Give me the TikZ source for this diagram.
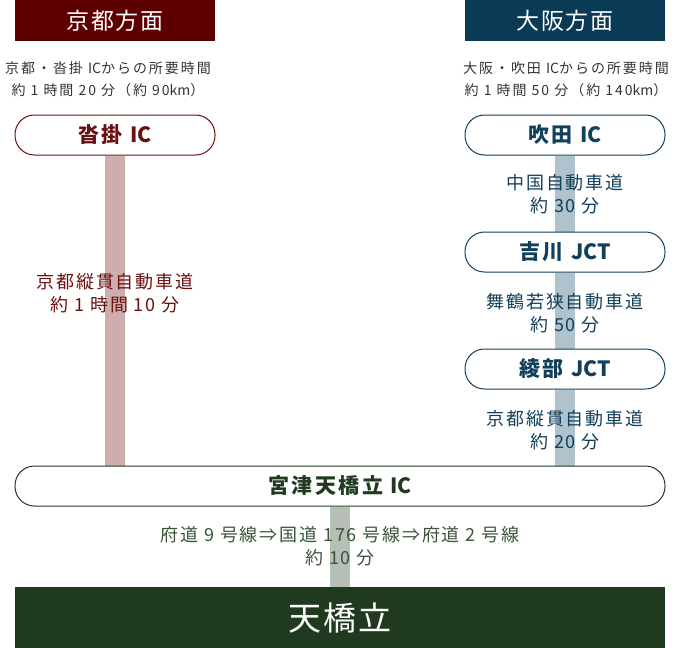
\documentclass[tikz,border=0pt]{standalone}
\usepackage{fontspec}
\usetikzlibrary{backgrounds}
\newfontfamily\jp[LetterSpace=10]{Noto Sans CJK JP}
\newfontfamily\jpsub[LetterSpace=14]{Noto Sans CJK JP}
\newfontfamily\jpstop[LetterSpace=12]{Noto Sans CJK JP}
\newfontfamily\jph[LetterSpace=6]{Noto Sans CJK JP}
\newfontfamily\jpn{Noto Sans CJK JP}
\newcommand{\lat}[1]{{\jpn #1}}
\definecolor{kred}{HTML}{5E0000}
\definecolor{kredtxt}{HTML}{6A1010}
\definecolor{kpink}{HTML}{CDADAD}
\definecolor{onavy}{HTML}{0B3A55}
\definecolor{onavytxt}{HTML}{123F5A}
\definecolor{obar}{HTML}{B0C3CD}
\definecolor{tgreen}{HTML}{1F3A1F}
\definecolor{tgreentxt}{HTML}{3A553A}
\definecolor{gbar}{HTML}{B5BFB5}
\definecolor{subgray}{HTML}{333333}
\tikzset{
  hdr/.style={minimum width=200pt, minimum height=41pt, inner sep=0pt, text=white,
    font=\jph\fontsize{23}{23}\selectfont},
  subtxt/.style={align=center, inner sep=0pt, text=subgray,
    font=\jpsub\fontsize{14}{22}\selectfont},
  stop/.style={draw, line width=1pt, fill=white, rounded corners=19.5pt,
    minimum width=200pt, minimum height=40pt, inner sep=0pt,
    font=\jpstop\bfseries\fontsize{21}{21}\selectfont},
  bar/.style={line width=20pt},
  lbl/.style={align=center, inner sep=0pt, font=\jp\fontsize{18}{23}\selectfont}
}
\begin{document}
\begin{tikzpicture}[x=1pt,y=-1pt]
\useasboundingbox (0,0) rectangle (675,648);
% headers
\node[hdr, fill=kred] (hk) at (115,20.5) {京都方面};
\node[hdr, fill=onavy] (ho) at (565,20.5) {大阪方面};
\node[subtxt] (sk) at (108,79) {京都・沓掛 \lat{IC}からの所要時間\\約 1 時間 20 分（約 90\lat{km}）};
\node[subtxt] (so) at (566,79) {大阪・吹田 \lat{IC}からの所要時間\\約 1 時間 50 分（約 140\lat{km}）};
% stops
\node[stop, draw=kredtxt, text=kredtxt] (kutsu) at (115,135) {沓掛 \lat{\bfseries IC}};
\node[stop, draw=onavytxt, text=onavytxt] (suita) at (565,135) {吹田 \lat{\bfseries IC}};
\node[stop, draw=onavytxt, text=onavytxt] (yoshi) at (565,252) {吉川 \lat{\bfseries JCT}};
\node[stop, draw=onavytxt, text=onavytxt] (ayabe) at (565,369) {綾部 \lat{\bfseries JCT}};
\node[stop, draw=tgreen, text=tgreen, minimum width=650pt] (miya) at (340,486) {宮津天橋立 \lat{\bfseries IC}};
\node[fill=tgreen, minimum width=650pt, minimum height=61pt, inner sep=0pt, text=white,
  font=\jph\fontsize{33}{33}\selectfont] (ama) at (340,617.5) {天橋立};
% bars
\begin{pgfonlayer}{background}
\draw[bar, kpink] (kutsu.south) -- (kutsu.south |- miya.north);
\draw[bar, obar] (suita.south) -- (yoshi.north);
\draw[bar, obar] (yoshi.south) -- (ayabe.north);
\draw[bar, obar] (ayabe.south) -- (ayabe.south |- miya.north);
\draw[bar, gbar] (miya.south) -- (ama.north);
\end{pgfonlayer}
% labels
\node[lbl, text=kredtxt] (lk) at (115,293) {京都縦貫自動車道\\約 1 時間 10 分};
\node[lbl, text=onavytxt] (lo1) at (565,194) {中国自動車道\\約 30 分};
\node[lbl, text=onavytxt] (lo2) at (565,313) {舞鶴若狭自動車道\\約 50 分};
\node[lbl, text=onavytxt] (lo3) at (565,430) {京都縦貫自動車道\\約 20 分};
\node[lbl, text=tgreentxt] (lg) at (340,546) {府道 9 号線⇒国道 176 号線⇒府道 2 号線\\約 10 分};
\end{tikzpicture}
\end{document}
